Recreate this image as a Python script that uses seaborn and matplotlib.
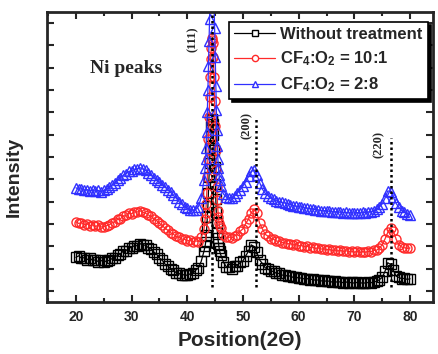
import numpy as np
import pandas as pd
import matplotlib
matplotlib.use("Agg")
import matplotlib.pyplot as plt
import seaborn as sns
from matplotlib.lines import Line2D
from matplotlib.ticker import FixedLocator, MultipleLocator, NullFormatter
from matplotlib.font_manager import FontProperties

# ---------------- data ----------------
two_theta = np.r_[np.arange(20, 43.01, 0.5),
                  np.arange(43.2, 45.81, 0.1),
                  np.arange(46, 80.01, 0.5)]

without_treatment = [
    200, 207, 196, 199, 190, 197, 186, 189, 181, 187,
    178, 185, 186, 195, 199, 211, 216, 228, 230, 243,
    244, 253, 252, 262, 254, 255, 243, 238, 224, 214,
    197, 187, 170, 162, 148, 142, 131, 128, 120, 123,
    119, 126, 128, 142, 153, 182, 228,
    250, 268, 300, 335, 380, 430, 490, 560, 625, 690,
    745, 790, 815, 822, 800, 750, 680, 605, 530, 460,
    405, 355, 315, 285, 262, 243, 228,
    212, 178, 158, 157,
    150, 160, 163, 177, 184, 207, 228, 256, 248, 222,
    188, 172, 153, 147, 138, 137, 128, 128, 120, 122,
    115, 117, 110, 113, 106, 108, 103, 105, 100, 102,
    97, 99, 94, 97, 92, 94, 89, 92, 88, 91,
    86, 90, 85, 88, 84, 88, 83, 87, 84, 88,
    86, 91, 92, 100, 110, 137, 176, 168, 142, 116,
    110, 104, 106, 101, 104,
]

cf4_o2_10_1 = [
    360, 352, 356, 347, 350, 342, 346, 339, 343, 336,
    338, 342, 346, 355, 360, 370, 373, 385, 388, 397,
    396, 404, 403, 409, 402, 398, 390, 385, 372, 365,
    352, 343, 330, 322, 310, 304, 294, 290, 282, 281,
    274, 276, 270, 274, 271, 290, 325,
    370, 400, 440, 490, 560, 640, 730, 830, 920, 1010,
    1090, 1140, 1175, 1185, 1160, 1100, 1010, 900, 790, 680,
    590, 515, 455, 410, 380, 355, 340,
    330, 302, 290, 291,
    287, 297, 302, 317, 328, 352, 372, 401, 418, 398,
    352, 328, 303, 295, 284, 281, 273, 272, 266, 266,
    261, 262, 256, 258, 252, 253, 248, 250, 244, 246,
    240, 243, 237, 239, 234, 236, 231, 233, 229, 231,
    227, 230, 225, 228, 223, 227, 222, 226, 223, 227,
    226, 231, 232, 242, 256, 282, 312, 330, 318, 282,
    257, 246, 243, 240, 242,
]

cf4_o2_2_8 = [
    512, 505, 508, 500, 504, 497, 503, 496, 500, 494,
    500, 506, 514, 525, 535, 548, 556, 568, 575, 585,
    586, 594, 596, 602, 596, 590, 580, 568, 558, 545,
    538, 526, 516, 503, 492, 478, 466, 450, 438, 428,
    420, 414, 412, 414, 428, 468, 548,
    600, 640, 690, 760, 850, 950, 1060, 1170, 1270, 1360,
    1440, 1500, 1540, 1550, 1520, 1450, 1350, 1230, 1100, 970,
    860, 770, 700, 640, 600, 570, 545,
    520, 484, 470, 466,
    468, 476, 488, 503, 520, 540, 563, 585, 592, 568,
    535, 505, 487, 476, 466, 460, 454, 450, 446, 444,
    440, 437, 432, 430, 427, 426, 422, 421, 418, 417,
    414, 413, 410, 410, 407, 407, 404, 405, 402, 403,
    400, 402, 399, 401, 398, 401, 398, 402, 400, 404,
    404, 410, 415, 425, 440, 465, 498, 495, 470, 442,
    424, 410, 402, 396, 392,
]

series_names = ["Without treatment", "CF$_4$:O$_2$ = 10:1", "CF$_4$:O$_2$ = 2:8"]
series_colors = ["black", "#ff2a2a", "#3030ff"]
series_markers = ["s", "o", "^"]

peak_positions = [44.5, 52.4, 76.5]
peak_labels = ["(111)", "(200)", "(220)"]

# ---------------- style ----------------
sns.set_style("ticks")
plt.rcParams["font.family"] = ["Liberation Sans", "DejaVu Sans"]
plt.rcParams["mathtext.fontset"] = "custom"
plt.rcParams["mathtext.rm"] = "Liberation Sans:bold"
plt.rcParams["mathtext.it"] = "Liberation Sans:bold"
plt.rcParams["mathtext.bf"] = "Liberation Sans:bold"
plt.rcParams["mathtext.default"] = "rm"

fig = plt.figure(figsize=(4.39, 3.54), dpi=100)
ax = fig.add_axes([0.107, 0.147, 0.879, 0.819])

values = [without_treatment, cf4_o2_10_1, cf4_o2_2_8]
handles = []
for name, vals, col, mk in zip(series_names, values, series_colors, series_markers):
    assert len(vals) == len(two_theta)
    df = pd.DataFrame({"x": two_theta, "y": vals})
    sns.lineplot(data=df, x="x", y="y", ax=ax, color=col, marker=mk,
                 markersize=6.5, mfc="none", mec=col, mew=1.0, lw=0.9,
                 legend=False)
    handles.append(Line2D([], [], color=col, lw=0.9, marker=mk, markersize=4.5,
                          mfc="white", mec=col, mew=1.0))

ax.set_xlim(14.8, 84.1)
ax.set_ylim(0, 1300)

# dotted reference lines and their labels
line_tops = [1300, 825, 735]
label_y = [1179, 789, 704]
label_dx = [-3.5, -1.7, -2.2]
for pos, lab, top, ly, dx in zip(peak_positions, peak_labels, line_tops, label_y, label_dx):
    ax.plot([pos, pos], [65, top], color="black", ls=(0, (1, 1.2)), lw=1.8, zorder=5)
    ax.text(pos + dx, ly, lab, rotation=90, ha="center", va="center",
            family="Liberation Serif", weight="bold", fontsize=9)

ax.text(22.5, 1049, "Ni peaks", ha="left", va="center",
        family="Liberation Serif", weight="bold", fontsize=14)

# axes formatting
ax.xaxis.set_major_locator(MultipleLocator(10))
ax.xaxis.set_minor_locator(MultipleLocator(5))
ax.yaxis.set_major_locator(FixedLocator(list(range(50, 1300, 100))))
ax.yaxis.set_major_formatter(NullFormatter())
ax.tick_params(which="both", direction="in", top=True, right=True, width=1.5)
ax.tick_params(which="major", length=5)
ax.tick_params(which="minor", length=3)
ax.tick_params(axis="x", labelsize=10, pad=6)
for t in ax.get_xticklabels():
    t.set_fontweight("bold")
for sp in ax.spines.values():
    sp.set_linewidth(2)

ax.set_xlabel("Position(2\u0398)", fontsize=15, fontweight="bold", labelpad=5)
ax.set_ylabel("Intensity", fontsize=14, fontweight="bold")
ax.yaxis.set_label_coords(-0.062, 0.43)

leg = ax.legend(handles=handles, labels=series_names, loc="upper right",
                bbox_to_anchor=(0.987, 0.966), borderaxespad=0,
                frameon=True, fancybox=False, framealpha=1,
                edgecolor="black", shadow={"color": "black", "alpha": 1},
                prop=FontProperties(family="Liberation Sans", weight="bold", size=12),
                handlelength=2.5, numpoints=1, borderpad=0.3,
                labelspacing=0.45, handletextpad=0.3)
leg.get_frame().set_linewidth(1.2)

fig.savefig("out.png", dpi=100)
